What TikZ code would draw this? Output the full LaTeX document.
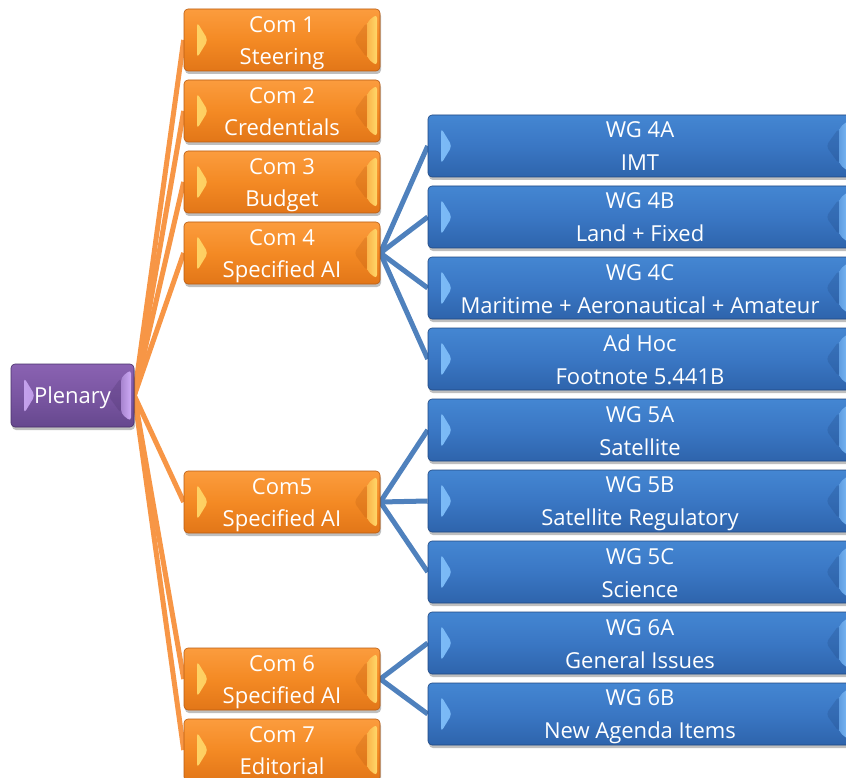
\documentclass[tikz,border=0pt]{standalone}
\usepackage{fontspec}
\setmainfont{Open Sans}
\usetikzlibrary{shadows,backgrounds,calc}
\definecolor{otop}{RGB}{251,156,62}
\definecolor{omid}{RGB}{244,138,36}
\definecolor{obot}{RGB}{226,118,24}
\definecolor{olight}{RGB}{255,215,105}
\definecolor{odark}{RGB}{185,92,18}
\definecolor{btop}{RGB}{68,134,210}
\definecolor{bmid}{RGB}{58,119,196}
\definecolor{bbot}{RGB}{46,100,172}
\definecolor{blight}{RGB}{125,188,248}
\definecolor{bdark}{RGB}{32,72,130}
\definecolor{ptop}{RGB}{138,98,178}
\definecolor{pmid}{RGB}{122,86,162}
\definecolor{pbot}{RGB}{102,72,142}
\definecolor{plight}{RGB}{205,170,245}
\definecolor{pdark}{RGB}{72,48,105}
\definecolor{oline}{RGB}{247,150,70}
\definecolor{bline}{RGB}{79,129,189}
\newcommand{\twol}[2]{\rule{0pt}{22pt}#1\\#2\rule[-5pt]{0pt}{5pt}}
\begin{document}
\begin{tikzpicture}[x=1pt,y=-1pt,
  bev/.style={rounded corners=4pt, inner sep=0pt, text=white, align=center,
    draw=#1dark, line width=0.6pt, top color=#1top, bottom color=#1bot, middle color=#1mid,
    drop shadow={shadow xshift=1pt, shadow yshift=-3pt, opacity=0.25, fill=black},
    path picture={
      \shade[left color=#1light, right color=#1mid]
        ($(path picture bounding box.west)+(13pt,18pt)$) --
        ($(path picture bounding box.west)+(13pt,-18pt)$) --
        ($(path picture bounding box.west)+(24pt,0pt)$) -- cycle;
      \fill[#1dark, opacity=0.25]
        ($(path picture bounding box.east)+(-13pt,18pt)$) --
        ($(path picture bounding box.east)+(-26pt,0pt)$) --
        ($(path picture bounding box.east)+(-13pt,-18pt)$) -- cycle;
      \shade[left color=#1light!55!#1mid, right color=#1light]
        ($(path picture bounding box.east)+(-13pt,18pt)$) --
        ($(path picture bounding box.east)+(-3pt,26pt)$) --
        ($(path picture bounding box.east)+(-3pt,-26pt)$) --
        ($(path picture bounding box.east)+(-13pt,-18pt)$) -- cycle;
    }},
  combox/.style={bev=o, minimum width=196pt, minimum height=62pt, font=\fontsize{22}{32}\selectfont},
  wgbox/.style={bev=b, minimum width=424pt, minimum height=62pt, font=\fontsize{22}{33}\selectfont},
  plenbox/.style={bev=p, minimum width=123pt, minimum height=63pt, font=\fontsize{22}{24}\selectfont},
  oconn/.style={draw=oline, line width=5pt},
  bconn/.style={draw=bline, line width=5pt}
]
\useasboundingbox (0,0) rectangle (846,778);
\node[plenbox] (plen) at (72.5,395.5) {\rule{0pt}{22pt}Plenary\rule[-5pt]{0pt}{5pt}};
\node[combox] (c1) at (282,40) {\twol{Com 1}{Steering}};
\node[combox] (c2) at (282,111) {\twol{Com 2}{Credentials}};
\node[combox] (c3) at (282,182) {\twol{Com 3}{Budget}};
\node[combox] (c4) at (282,253) {\twol{Com 4}{Specified AI}};
\node[combox] (c5) at (282,502) {\twol{Com5}{Specified AI}};
\node[combox] (c6) at (282,679) {\twol{Com 6}{Specified AI}};
\node[combox] (c7) at (282,750) {\twol{Com 7}{Editorial}};
\node[wgbox] (w4a) at (640,146) {\twol{WG 4A}{IMT}};
\node[wgbox] (w4b) at (640,217) {\twol{WG 4B}{Land + Fixed}};
\node[wgbox] (w4c) at (640,288) {\twol{WG 4C}{Maritime + Aeronautical + Amateur}};
\node[wgbox] (wah) at (640,359) {\twol{Ad Hoc}{Footnote 5.441B}};
\node[wgbox] (w5a) at (640,430) {\twol{WG 5A}{Satellite}};
\node[wgbox] (w5b) at (640,501) {\twol{WG 5B}{Satellite Regulatory}};
\node[wgbox] (w5c) at (640,572) {\twol{WG 5C}{Science}};
\node[wgbox] (w6a) at (640,643) {\twol{WG 6A}{General Issues}};
\node[wgbox] (w6b) at (640,714) {\twol{WG 6B}{New Agenda Items}};
\begin{scope}[on background layer]
  \foreach \c in {c1,c2,c3,c4,c5,c6,c7} \draw[oconn] (plen.east) -- (\c.west);
  \foreach \w in {w4a,w4b,w4c,wah} \draw[bconn] (c4.east) -- (\w.west);
  \foreach \w in {w5a,w5b,w5c} \draw[bconn] (c5.east) -- (\w.west);
  \foreach \w in {w6a,w6b} \draw[bconn] (c6.east) -- (\w.west);
\end{scope}
\end{tikzpicture}
\end{document}
